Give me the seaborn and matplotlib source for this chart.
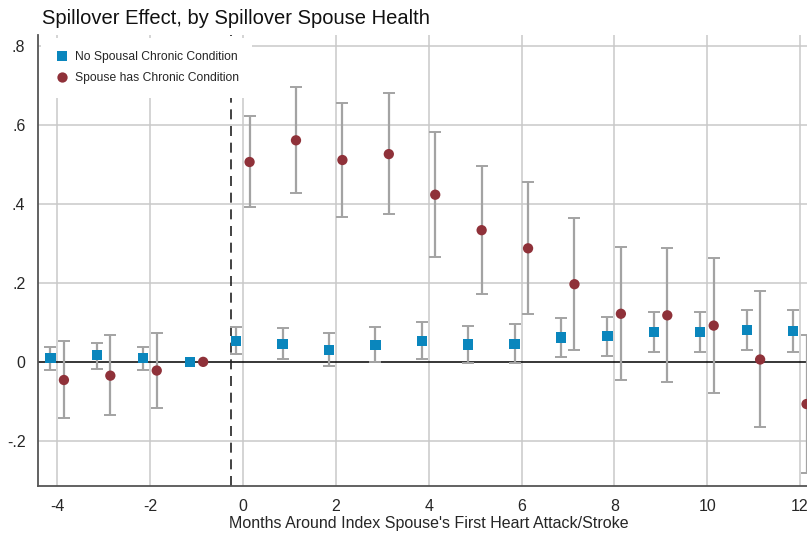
import numpy as np
import pandas as pd
import matplotlib
matplotlib.use("Agg")
import matplotlib.pyplot as plt
import seaborn as sns

months = [-4, -3, -2, -1, 0, 1, 2, 3, 4, 5, 6, 7, 8, 9, 10, 11, 12]

no_cond_est = [0.010, 0.018, 0.010, 0.000, 0.053, 0.046, 0.030, 0.043, 0.053, 0.044, 0.046, 0.062, 0.065, 0.076, 0.076, 0.080, 0.079]
no_cond_lo = [-0.020, -0.018, -0.020, 0.000, 0.020, 0.008, -0.010, 0.000, 0.007, -0.004, -0.002, 0.013, 0.014, 0.025, 0.025, 0.029, 0.025]
no_cond_hi = [0.038, 0.048, 0.038, 0.000, 0.089, 0.086, 0.073, 0.089, 0.100, 0.091, 0.095, 0.110, 0.115, 0.127, 0.127, 0.132, 0.132]

cond_est = [-0.046, -0.035, -0.022, 0.000, 0.507, 0.562, 0.512, 0.527, 0.424, 0.334, 0.288, 0.197, 0.122, 0.118, 0.092, 0.006, -0.107]
cond_lo = [-0.143, -0.135, -0.118, 0.000, 0.392, 0.428, 0.367, 0.375, 0.265, 0.171, 0.122, 0.029, -0.047, -0.052, -0.079, -0.166, -0.282]
cond_hi = [0.052, 0.067, 0.074, 0.000, 0.624, 0.697, 0.657, 0.681, 0.583, 0.498, 0.455, 0.366, 0.291, 0.289, 0.264, 0.180, 0.068]

labels = ["No Spousal Chronic Condition", "Spouse has Chronic Condition"]
x_ticks = [-4, -2, 0, 2, 4, 6, 8, 10, 12]
y_ticks = [-0.2, 0, 0.2, 0.4, 0.6, 0.8]
y_ticklabels = ["-.2", "0", ".2", ".4", ".6", ".8"]

sns.set_theme(style="white")
plt.rcParams['font.family'] = ['Liberation Sans', 'DejaVu Sans']

offsets = {labels[0]: -0.15, labels[1]: 0.14}
df = pd.concat([
    pd.DataFrame({"month": months, "est": no_cond_est, "lo": no_cond_lo, "hi": no_cond_hi, "group": labels[0]}),
    pd.DataFrame({"month": months, "est": cond_est, "lo": cond_lo, "hi": cond_hi, "group": labels[1]}),
], ignore_index=True)
df["x"] = df["month"] + df["group"].map(offsets)

colors = {labels[0]: "#0a86bd", labels[1]: "#8f3139"}

fig = plt.figure(figsize=(8.07, 5.35), dpi=100)
ax = fig.add_axes([0.047, 0.0915, 0.953, 0.843])

# grid
for xt in x_ticks:
    ax.axvline(xt, color="#c9c9c9", lw=1.1, zorder=0)
for yt in y_ticks:
    if yt != 0:
        ax.axhline(yt, color="#c9c9c9", lw=1.1, zorder=0)
ax.axhline(0, color="black", lw=1.1, zorder=1)
ax.axvline(-0.25, color="#222222", lw=1.2, ls=(0, (6, 4)), zorder=1)

# error bars
for g in labels:
    sub = df[(df["group"] == g) & (df["hi"] != df["lo"])]
    ax.errorbar(sub["x"], sub["est"], yerr=[sub["est"] - sub["lo"], sub["hi"] - sub["est"]],
                fmt="none", ecolor="#a3a3a3", elinewidth=1.6, capsize=4, capthick=1.4, zorder=2)

sns.scatterplot(data=df, x="x", y="est", hue="group", style="group",
                palette=colors, markers={labels[0]: "s", labels[1]: "o"},
                s=55, edgecolor="none", linewidth=0, ax=ax, zorder=3, legend=True)

ax.set_xlim(-4.42, 12.15)
ax.set_ylim(-0.315, 0.829)
ax.set_xticks(x_ticks)
ax.set_xticklabels([str(t) for t in x_ticks], fontsize=11.5)
ax.set_yticks(y_ticks)
ax.set_yticklabels(y_ticklabels, fontsize=11.5)
ax.tick_params(axis="both", direction="out", length=5, width=1, color="#555555", pad=4)
ax.tick_params(axis="y", length=8, pad=1)
for side in ["top", "right"]:
    ax.spines[side].set_visible(False)
for side in ["left", "bottom"]:
    ax.spines[side].set_color("#555555")
    ax.spines[side].set_linewidth(1.3)
    ax.spines[side].set_zorder(6)

ax.set_xlabel("Months Around Index Spouse's First Heart Attack/Stroke", fontsize=11.5, labelpad=3)
ax.xaxis.set_label_coords(0.508, -0.067)
ax.set_ylabel("")
fig.text(42 / 807, 1 - 24 / 535, "Spillover Effect, by Spillover Spouse Health",
         fontsize=14.5, ha="left", va="baseline", color="#111111")

handles, lbls = ax.get_legend_handles_labels()
leg = ax.legend(handles, lbls, loc="upper left", bbox_to_anchor=(0.002, 0.996), fontsize=8.7,
                frameon=True, fancybox=False, framealpha=1, edgecolor="white",
                borderpad=1.1, labelspacing=0.75, handletextpad=0.45, handlelength=1.3,
                markerscale=1.0, borderaxespad=0.1)
leg.get_frame().set_linewidth(0)
leg.set_zorder(5)

fig.savefig("out.png", dpi=100)
